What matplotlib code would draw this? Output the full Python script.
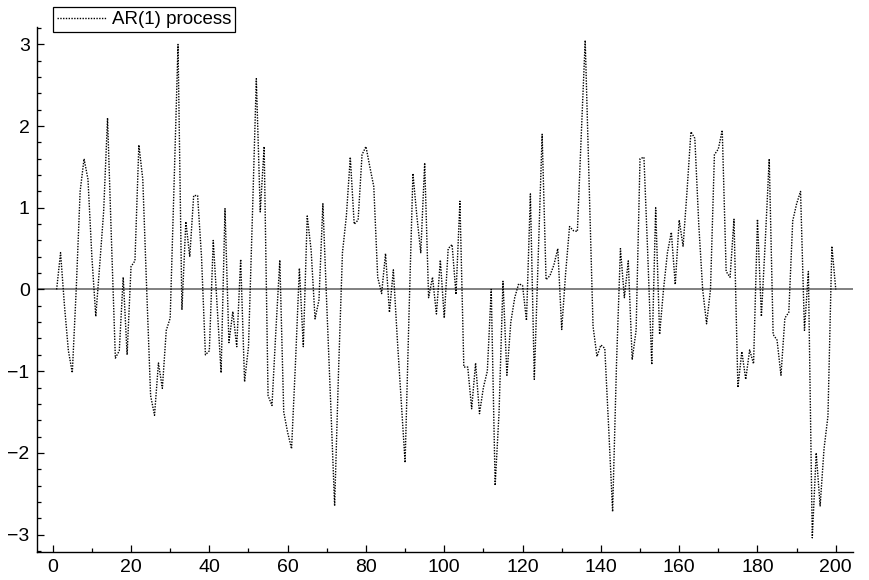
import numpy as np
import matplotlib
matplotlib.use("Agg")
import matplotlib.pyplot as plt
from matplotlib.ticker import MultipleLocator

plt.rcParams['font.family'] = ['Liberation Sans', 'DejaVu Sans']

# serie AR(1), valores (t = 1..200)
t = np.arange(1, 201)
valores = [
    0.00, 0.45, -0.20, -0.75, -1.02, 0.00, 1.20, 1.60, 1.35, 0.40,
    -0.33, 0.30, 0.95, 2.10, 0.60, -0.84, -0.75, 0.15, -0.80, 0.28,
    0.35, 1.77, 1.35, 0.00, -1.30, -1.54, -0.90, -1.21, -0.50, -0.35,
    1.30, 3.00, -0.25, 0.83, 0.40, 1.15, 1.15, 0.40, -0.80, -0.75,
    0.60, -0.20, -1.02, 0.99, -0.65, -0.27, -0.70, 0.37, -1.13, -0.70,
    0.90, 2.58, 0.95, 1.75, -1.30, -1.42, -0.50, 0.36, -1.50, -1.75,
    -1.95, -0.90, 0.26, -0.70, 0.90, 0.48, -0.36, -0.13, 1.05, -0.20,
    -1.40, -2.65, -1.00, 0.45, 0.90, 1.62, 0.80, 0.85, 1.65, 1.75,
    1.50, 1.26, 0.15, -0.05, 0.44, -0.28, 0.24, -0.60, -1.35, -2.12,
    -0.30, 1.42, 0.90, 0.45, 1.55, -0.10, 0.15, -0.30, 0.36, -0.35,
    0.50, 0.55, -0.06, 1.08, -0.95, -0.95, -1.46, -0.90, -1.52, -1.20,
    -1.00, 0.00, -2.40, -1.50, 0.10, -1.05, -0.40, -0.10, 0.07, 0.05,
    -0.38, 1.17, -1.10, 0.40, 1.90, 0.12, 0.17, 0.30, 0.50, -0.49,
    0.20, 0.77, 0.72, 0.71, 1.90, 3.05, 1.30, -0.45, -0.82, -0.68,
    -0.72, -1.70, -2.72, -0.90, 0.50, -0.10, 0.35, -0.86, -0.50, 1.60,
    1.62, 0.40, -0.92, 1.00, -0.55, 0.00, 0.45, 0.70, 0.06, 0.85,
    0.53, 1.20, 1.93, 1.85, 0.80, 0.00, -0.42, 0.00, 1.65, 1.72,
    1.95, 0.22, 0.15, 0.86, -1.20, -0.76, -1.10, -0.74, -0.91, 0.86,
    -0.33, 0.60, 1.60, -0.55, -0.62, -1.05, -0.35, -0.28, 0.84, 1.05,
    1.20, -0.50, 0.22, -3.04, -2.00, -2.65, -1.95, -1.55, 0.53, 0.00,
]

x_ticks = [0, 20, 40, 60, 80, 100, 120, 140, 160, 180, 200]
y_ticks = [-3, -2, -1, 0, 1, 2, 3]

fig = plt.figure(figsize=(8.69, 5.8), dpi=100)
ax = fig.add_axes([0.0422, 0.0488, 0.9394, 0.9042])

# linea de cero
ax.axhline(0, color='#808080', lw=1.4, zorder=1)

linea, = ax.plot(t, valores, color='black', lw=1.0, linestyle=(0, (1, 1)),
                 label='AR(1) process', zorder=2)

ax.set_xlim(-4.1, 204.4)
ax.set_ylim(-3.21, 3.21)
ax.set_xticks(x_ticks)
ax.set_yticks(y_ticks)
ax.set_yticklabels(['\u22123', '\u22122', '\u22121', '0', '1', '2', '3'])
ax.xaxis.set_minor_locator(MultipleLocator(10))
ax.yaxis.set_minor_locator(MultipleLocator(0.2))
ax.tick_params(which='major', direction='in', length=5, width=0.9, labelsize=14, pad=5)
ax.tick_params(which='minor', direction='in', length=3, width=0.9)

for lado in ['top', 'right']:
    ax.spines[lado].set_visible(False)
for lado in ['left', 'bottom']:
    ax.spines[lado].set_linewidth(1.0)

leg = fig.legend(handles=[linea], loc='upper left', bbox_to_anchor=(0.061, 0.988),
                 fontsize=13.5, frameon=True, fancybox=False, framealpha=1,
                 edgecolor='black', borderpad=0.22, handlelength=2.6,
                 handletextpad=0.3, borderaxespad=0)
leg.get_frame().set_linewidth(0.9)

fig.savefig('out.png', dpi=100)
